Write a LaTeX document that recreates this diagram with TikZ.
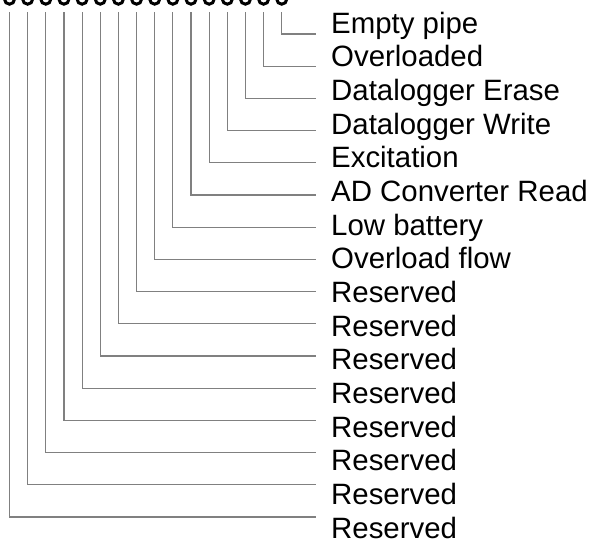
\documentclass[tikz,border=0pt]{standalone}
\usepackage{fontspec}
\setmainfont{Liberation Sans}
\definecolor{wire}{RGB}{128,128,128}
\begin{document}
\begin{tikzpicture}[x=1pt,y=-1pt,
  wirestyle/.style={draw=wire,line width=1.2pt},
  ring/.style={circle,draw=black,line width=3pt,minimum size=10pt,inner sep=0pt},
  lab/.style={anchor=base west,inner sep=0pt,font=\fontsize{29.4}{30}\selectfont}]
\useasboundingbox (0,0) rectangle (593,541);
\clip (0,0) rectangle (593,541);
\foreach [count=\k from 0] \lbl in {Empty pipe,Overloaded,Datalogger Erase,Datalogger Write,Excitation,AD Converter Read,Low battery,Overload flow,Reserved,Reserved,Reserved,Reserved,Reserved,Reserved,Reserved,Reserved}{
  \pgfmathsetmacro\xx{9.5+18.15*(15-\k)}
  \pgfmathsetmacro\yy{34+32.2*\k}
  \pgfmathsetmacro\yb{33.3+33.65*\k}
  \node[ring] (o\k) at (\xx,-0.8) {};
  \coordinate (t\k) at (\xx,12);
  \coordinate (e\k) at (315.5,\yy);
  \node[lab] (l\k) at (331,\yb) {\lbl};
  \draw[wirestyle] (t\k) |- (e\k);
}
\end{tikzpicture}
\end{document}
